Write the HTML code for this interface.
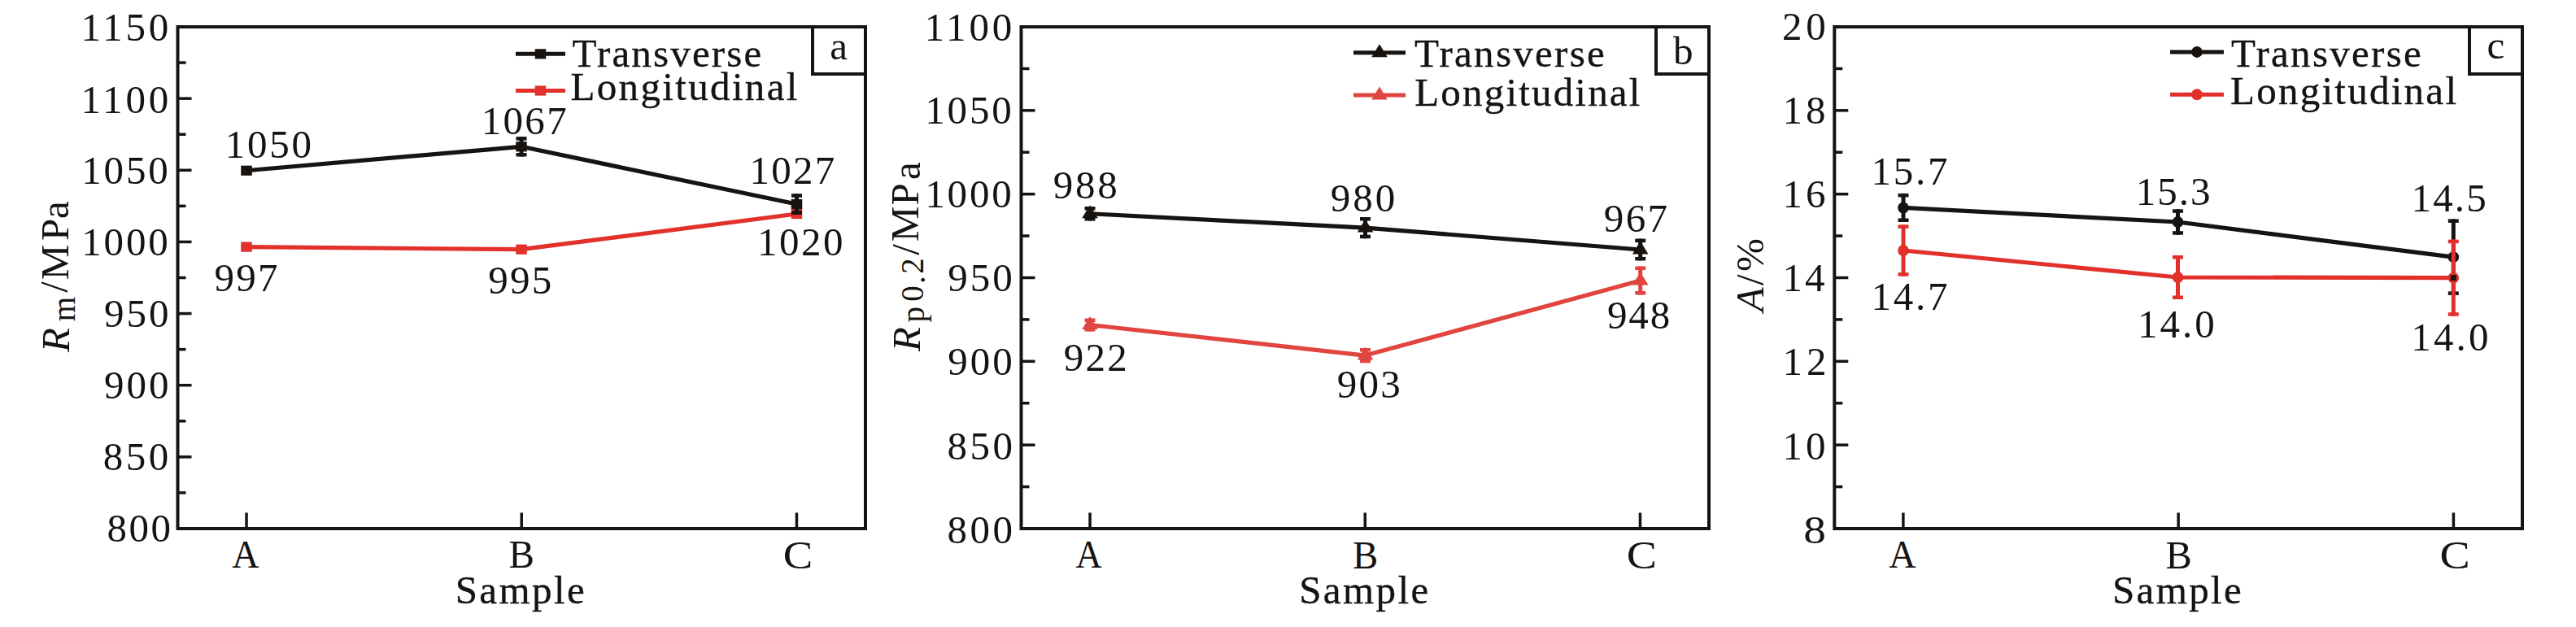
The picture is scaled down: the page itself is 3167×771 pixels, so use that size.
<!DOCTYPE html>
<html><head><meta charset="utf-8">
<style>
html,body{margin:0;padding:0;background:#fff;width:3167px;height:771px;overflow:hidden}
svg{display:block}
.t{font-family:"Liberation Serif", serif;font-size:49px;fill:#171311;stroke:#171311;stroke-width:0px}
#t_a_Transverse,#t_b_Transverse,#t_c_Transverse,#t_a_Longitudinal,#t_b_Longitudinal,#t_c_Longitudinal,#t_a_Sample,#t_b_Sample,#t_c_Sample{stroke-width:0.35px}
</style></head><body>
<svg width="3167" height="771" viewBox="0 0 3167 771">
<rect width="3167" height="771" fill="#fff"/>
<rect x="218.5" y="33" width="845.5" height="617" fill="none" stroke="#171311" stroke-width="4"/>
<line x1="218.5" y1="605.93" x2="228.5" y2="605.93" stroke="#171311" stroke-width="3.5"/>
<text id="t_a_y800" class="t" text-anchor="middle" transform="translate(172.00,665.95) scale(1.0000,1)" letter-spacing="2.5">800</text>
<line x1="218.5" y1="561.86" x2="235.5" y2="561.86" stroke="#171311" stroke-width="3.5"/>
<line x1="218.5" y1="517.79" x2="228.5" y2="517.79" stroke="#171311" stroke-width="3.5"/>
<text id="t_a_y850" class="t" text-anchor="middle" transform="translate(168.70,578.46) scale(1.0000,1)" letter-spacing="3.4">850</text>
<line x1="218.5" y1="473.71" x2="235.5" y2="473.71" stroke="#171311" stroke-width="3.5"/>
<line x1="218.5" y1="429.64" x2="228.5" y2="429.64" stroke="#171311" stroke-width="3.5"/>
<text id="t_a_y900" class="t" text-anchor="middle" transform="translate(169.20,490.31) scale(1.0000,1)" letter-spacing="2.9">900</text>
<line x1="218.5" y1="385.57" x2="235.5" y2="385.57" stroke="#171311" stroke-width="3.5"/>
<line x1="218.5" y1="341.50" x2="228.5" y2="341.50" stroke="#171311" stroke-width="3.5"/>
<text id="t_a_y950" class="t" text-anchor="middle" transform="translate(169.20,402.17) scale(1.0000,1)" letter-spacing="2.9">950</text>
<line x1="218.5" y1="297.43" x2="235.5" y2="297.43" stroke="#171311" stroke-width="3.5"/>
<line x1="218.5" y1="253.36" x2="228.5" y2="253.36" stroke="#171311" stroke-width="3.5"/>
<text id="t_a_y1000" class="t" text-anchor="middle" transform="translate(154.90,314.03) scale(1.0000,1)" letter-spacing="2.867">1000</text>
<line x1="218.5" y1="209.29" x2="235.5" y2="209.29" stroke="#171311" stroke-width="3.5"/>
<line x1="218.5" y1="165.21" x2="228.5" y2="165.21" stroke="#171311" stroke-width="3.5"/>
<text id="t_a_y1050" class="t" text-anchor="middle" transform="translate(154.90,225.89) scale(1.0000,1)" letter-spacing="2.867">1050</text>
<line x1="218.5" y1="121.14" x2="235.5" y2="121.14" stroke="#171311" stroke-width="3.5"/>
<line x1="218.5" y1="77.07" x2="228.5" y2="77.07" stroke="#171311" stroke-width="3.5"/>
<text id="t_a_y1100" class="t" text-anchor="middle" transform="translate(155.40,138.74) scale(1.0000,1)" letter-spacing="3.868">1100</text>
<text id="t_a_y1150" class="t" text-anchor="middle" transform="translate(155.40,50.10) scale(1.0000,1)" letter-spacing="3.868">1150</text>
<line x1="303.05" y1="630.5" x2="303.05" y2="650" stroke="#171311" stroke-width="3.5"/>
<text id="t_a_A" class="t" text-anchor="middle" transform="translate(302.00,698.00) scale(0.9412,1)">A</text>
<line x1="641.25" y1="630.5" x2="641.25" y2="650" stroke="#171311" stroke-width="3.5"/>
<text id="t_a_B" class="t" text-anchor="middle" transform="translate(641.20,697.90) scale(0.9614,1)">B</text>
<line x1="979.45" y1="630.5" x2="979.45" y2="650" stroke="#171311" stroke-width="3.5"/>
<text id="t_a_C" class="t" text-anchor="middle" transform="translate(980.90,699.00) scale(1.1179,1)">C</text>
<text id="t_a_Sample" class="t" text-anchor="middle" transform="translate(640.35,741.90) scale(1.0000,1)" letter-spacing="2.4">Sample</text>
<rect x="999" y="33" width="65" height="58" fill="none" stroke="#171311" stroke-width="4"/>
<text id="t_box_a" class="t" text-anchor="middle" transform="translate(1031.40,72.70) scale(1.0000,1)" letter-spacing="0.375">a</text>
<rect x="1255.5" y="33" width="845.5" height="617" fill="none" stroke="#171311" stroke-width="4"/>
<line x1="1255.5" y1="598.58" x2="1265.5" y2="598.58" stroke="#171311" stroke-width="3.5"/>
<text id="t_b_y800" class="t" text-anchor="middle" transform="translate(1206.50,667.60) scale(1.0000,1)" letter-spacing="3.5">800</text>
<line x1="1255.5" y1="547.17" x2="1272.5" y2="547.17" stroke="#171311" stroke-width="3.5"/>
<line x1="1255.5" y1="495.75" x2="1265.5" y2="495.75" stroke="#171311" stroke-width="3.5"/>
<text id="t_b_y850" class="t" text-anchor="middle" transform="translate(1206.50,564.77) scale(1.0000,1)" letter-spacing="3.5">850</text>
<line x1="1255.5" y1="444.33" x2="1272.5" y2="444.33" stroke="#171311" stroke-width="3.5"/>
<line x1="1255.5" y1="392.92" x2="1265.5" y2="392.92" stroke="#171311" stroke-width="3.5"/>
<text id="t_b_y900" class="t" text-anchor="middle" transform="translate(1206.50,460.93) scale(1.0000,1)" letter-spacing="3.0">900</text>
<line x1="1255.5" y1="341.50" x2="1272.5" y2="341.50" stroke="#171311" stroke-width="3.5"/>
<line x1="1255.5" y1="290.08" x2="1265.5" y2="290.08" stroke="#171311" stroke-width="3.5"/>
<text id="t_b_y950" class="t" text-anchor="middle" transform="translate(1206.50,358.10) scale(1.0000,1)" letter-spacing="3.0">950</text>
<line x1="1255.5" y1="238.67" x2="1272.5" y2="238.67" stroke="#171311" stroke-width="3.5"/>
<line x1="1255.5" y1="187.25" x2="1265.5" y2="187.25" stroke="#171311" stroke-width="3.5"/>
<text id="t_b_y1000" class="t" text-anchor="middle" transform="translate(1191.90,255.27) scale(1.0000,1)" letter-spacing="2.867">1000</text>
<line x1="1255.5" y1="135.83" x2="1272.5" y2="135.83" stroke="#171311" stroke-width="3.5"/>
<line x1="1255.5" y1="84.42" x2="1265.5" y2="84.42" stroke="#171311" stroke-width="3.5"/>
<text id="t_b_y1050" class="t" text-anchor="middle" transform="translate(1191.90,152.43) scale(1.0000,1)" letter-spacing="2.867">1050</text>
<text id="t_b_y1100" class="t" text-anchor="middle" transform="translate(1192.40,50.10) scale(1.0000,1)" letter-spacing="3.868">1100</text>
<line x1="1340.05" y1="630.5" x2="1340.05" y2="650" stroke="#171311" stroke-width="3.5"/>
<text id="t_b_A" class="t" text-anchor="middle" transform="translate(1338.55,698.00) scale(0.9127,1)">A</text>
<line x1="1678.25" y1="630.5" x2="1678.25" y2="650" stroke="#171311" stroke-width="3.5"/>
<text id="t_b_B" class="t" text-anchor="middle" transform="translate(1678.65,698.90) scale(0.9548,1)">B</text>
<line x1="2016.45" y1="630.5" x2="2016.45" y2="650" stroke="#171311" stroke-width="3.5"/>
<text id="t_b_C" class="t" text-anchor="middle" transform="translate(2018.25,699.10) scale(1.1386,1)">C</text>
<text id="t_b_Sample" class="t" text-anchor="middle" transform="translate(1677.90,741.90) scale(1.0000,1)" letter-spacing="2.4">Sample</text>
<rect x="2036" y="33" width="65" height="58" fill="none" stroke="#171311" stroke-width="4"/>
<text id="t_box_b" class="t" text-anchor="middle" transform="translate(2069.00,78.95) scale(1.0000,1)" letter-spacing="-0.25">b</text>
<rect x="2255.3" y="33" width="845.6999999999998" height="617" fill="none" stroke="#171311" stroke-width="4"/>
<line x1="2255.3" y1="598.58" x2="2265.3" y2="598.58" stroke="#171311" stroke-width="3.5"/>
<text id="t_c_y8" class="t" text-anchor="middle" transform="translate(2231.10,667.60) scale(1.1269,1)">8</text>
<line x1="2255.3" y1="547.17" x2="2272.3" y2="547.17" stroke="#171311" stroke-width="3.5"/>
<line x1="2255.3" y1="495.75" x2="2265.3" y2="495.75" stroke="#171311" stroke-width="3.5"/>
<text id="t_c_y10" class="t" text-anchor="middle" transform="translate(2220.00,564.77) scale(1.0000,1)" letter-spacing="4.0">10</text>
<line x1="2255.3" y1="444.33" x2="2272.3" y2="444.33" stroke="#171311" stroke-width="3.5"/>
<line x1="2255.3" y1="392.92" x2="2265.3" y2="392.92" stroke="#171311" stroke-width="3.5"/>
<text id="t_c_y12" class="t" text-anchor="middle" transform="translate(2221.00,460.93) scale(1.0000,1)" letter-spacing="5.0">12</text>
<line x1="2255.3" y1="341.50" x2="2272.3" y2="341.50" stroke="#171311" stroke-width="3.5"/>
<line x1="2255.3" y1="290.08" x2="2265.3" y2="290.08" stroke="#171311" stroke-width="3.5"/>
<text id="t_c_y14" class="t" text-anchor="middle" transform="translate(2219.00,358.10) scale(1.0000,1)" letter-spacing="3.0">14</text>
<line x1="2255.3" y1="238.67" x2="2272.3" y2="238.67" stroke="#171311" stroke-width="3.5"/>
<line x1="2255.3" y1="187.25" x2="2265.3" y2="187.25" stroke="#171311" stroke-width="3.5"/>
<text id="t_c_y16" class="t" text-anchor="middle" transform="translate(2220.00,255.27) scale(1.0000,1)" letter-spacing="4.0">16</text>
<line x1="2255.3" y1="135.83" x2="2272.3" y2="135.83" stroke="#171311" stroke-width="3.5"/>
<line x1="2255.3" y1="84.42" x2="2265.3" y2="84.42" stroke="#171311" stroke-width="3.5"/>
<text id="t_c_y18" class="t" text-anchor="middle" transform="translate(2220.00,152.43) scale(1.0000,1)" letter-spacing="4.0">18</text>
<text id="t_c_y20" class="t" text-anchor="middle" transform="translate(2220.20,49.05) scale(1.0000,1)" letter-spacing="4.6">20</text>
<line x1="2339.87" y1="630.5" x2="2339.87" y2="650" stroke="#171311" stroke-width="3.5"/>
<text id="t_c_A" class="t" text-anchor="middle" transform="translate(2338.87,698.00) scale(0.9412,1)">A</text>
<line x1="2678.15" y1="630.5" x2="2678.15" y2="650" stroke="#171311" stroke-width="3.5"/>
<text id="t_c_B" class="t" text-anchor="middle" transform="translate(2678.55,698.90) scale(0.9889,1)">B</text>
<line x1="3016.43" y1="630.5" x2="3016.43" y2="650" stroke="#171311" stroke-width="3.5"/>
<text id="t_c_C" class="t" text-anchor="middle" transform="translate(3018.23,699.10) scale(1.1386,1)">C</text>
<text id="t_c_Sample" class="t" text-anchor="middle" transform="translate(2677.50,741.90) scale(1.0000,1)" letter-spacing="2.36">Sample</text>
<rect x="3036" y="33" width="65" height="58" fill="none" stroke="#171311" stroke-width="4"/>
<text id="t_box_c" class="t" text-anchor="middle" transform="translate(3068.70,72.45) scale(1.0000,1)" letter-spacing="0.5">c</text>
<polyline points="303.00,303.60 641.00,306.70 979.50,263.00" fill="none" stroke="#e2302b" stroke-width="5.2" stroke-linejoin="round"/>
<rect x="296.25" y="297.50" width="13.5" height="12.2" fill="#e2302b"/>
<rect x="634.25" y="300.60" width="13.5" height="12.2" fill="#e2302b"/>
<rect x="972.75" y="256.90" width="13.5" height="12.2" fill="#e2302b"/>
<polyline points="303.00,209.75 641.00,180.30 979.50,251.00" fill="none" stroke="#171311" stroke-width="5.2" stroke-linejoin="round"/>
<rect x="296.25" y="203.65" width="13.5" height="12.2" fill="#171311"/>
<line x1="641.00" y1="168.10" x2="641.00" y2="192.50" stroke="#171311" stroke-width="5"/><rect x="634.50" y="168.10" width="13" height="4.5" fill="#171311"/><rect x="634.50" y="188.00" width="13" height="4.5" fill="#171311"/>
<rect x="634.25" y="174.20" width="13.5" height="12.2" fill="#171311"/>
<line x1="979.50" y1="238.25" x2="979.50" y2="263.75" stroke="#171311" stroke-width="5"/><rect x="973.00" y="238.25" width="13" height="4.5" fill="#171311"/><rect x="973.00" y="259.25" width="13" height="4.5" fill="#171311"/>
<rect x="972.75" y="244.90" width="13.5" height="12.2" fill="#171311"/>
<polyline points="1340.00,399.50 1678.50,437.10 2016.70,345.00" fill="none" stroke="#e04540" stroke-width="5.2" stroke-linejoin="round"/>
<line x1="1340.00" y1="391.50" x2="1340.00" y2="407.50" stroke="#e04540" stroke-width="5"/><rect x="1333.50" y="391.50" width="13" height="4.5" fill="#e04540"/><rect x="1333.50" y="403.00" width="13" height="4.5" fill="#e04540"/>
<polygon points="1340.00,389.00 1349.80,405.00 1330.20,405.00" fill="#e04540"/>
<line x1="1678.50" y1="428.00" x2="1678.50" y2="446.20" stroke="#e04540" stroke-width="5"/><rect x="1672.00" y="428.00" width="13" height="4.5" fill="#e04540"/><rect x="1672.00" y="441.70" width="13" height="4.5" fill="#e04540"/>
<polygon points="1678.50,426.60 1688.30,442.60 1668.70,442.60" fill="#e04540"/>
<line x1="2016.70" y1="327.50" x2="2016.70" y2="362.50" stroke="#e04540" stroke-width="5"/><rect x="2010.20" y="327.50" width="13" height="4.5" fill="#e04540"/><rect x="2010.20" y="358.00" width="13" height="4.5" fill="#e04540"/>
<polygon points="2016.70,334.50 2026.50,350.50 2006.90,350.50" fill="#e04540"/>
<polyline points="1340.00,262.75 1678.50,280.10 2016.70,307.00" fill="none" stroke="#171311" stroke-width="5.2" stroke-linejoin="round"/>
<line x1="1340.00" y1="254.00" x2="1340.00" y2="271.50" stroke="#171311" stroke-width="5"/><rect x="1333.50" y="254.00" width="13" height="4.5" fill="#171311"/><rect x="1333.50" y="267.00" width="13" height="4.5" fill="#171311"/>
<polygon points="1340.00,252.25 1349.80,268.25 1330.20,268.25" fill="#171311"/>
<line x1="1678.50" y1="267.00" x2="1678.50" y2="293.20" stroke="#171311" stroke-width="5"/><rect x="1672.00" y="267.00" width="13" height="4.5" fill="#171311"/><rect x="1672.00" y="288.70" width="13" height="4.5" fill="#171311"/>
<polygon points="1678.50,269.60 1688.30,285.60 1668.70,285.60" fill="#171311"/>
<line x1="2016.70" y1="293.60" x2="2016.70" y2="320.40" stroke="#171311" stroke-width="5"/><rect x="2010.20" y="293.60" width="13" height="4.5" fill="#171311"/><rect x="2010.20" y="315.90" width="13" height="4.5" fill="#171311"/>
<polygon points="2016.70,296.50 2026.50,312.50 2006.90,312.50" fill="#171311"/>
<polyline points="2340.00,255.45 2677.50,273.00 3016.30,316.15" fill="none" stroke="#171311" stroke-width="5.2" stroke-linejoin="round"/>
<line x1="2340.00" y1="237.90" x2="2340.00" y2="273.00" stroke="#171311" stroke-width="5"/><rect x="2333.50" y="237.90" width="13" height="4.5" fill="#171311"/><rect x="2333.50" y="268.50" width="13" height="4.5" fill="#171311"/>
<ellipse cx="2340.00" cy="255.45" rx="6.8" ry="7" fill="#171311"/>
<line x1="2677.50" y1="257.30" x2="2677.50" y2="288.70" stroke="#171311" stroke-width="5"/><rect x="2671.00" y="257.30" width="13" height="4.5" fill="#171311"/><rect x="2671.00" y="284.20" width="13" height="4.5" fill="#171311"/>
<ellipse cx="2677.50" cy="273.00" rx="6.8" ry="7" fill="#171311"/>
<line x1="3016.30" y1="269.40" x2="3016.30" y2="362.90" stroke="#171311" stroke-width="5"/><rect x="3009.80" y="269.40" width="13" height="4.5" fill="#171311"/><rect x="3009.80" y="358.40" width="13" height="4.5" fill="#171311"/>
<ellipse cx="3016.30" cy="316.15" rx="6.8" ry="7" fill="#171311"/>
<polyline points="2340.00,308.00 2677.50,341.00 3016.30,341.65" fill="none" stroke="#e2302b" stroke-width="5.2" stroke-linejoin="round"/>
<line x1="2340.00" y1="276.40" x2="2340.00" y2="339.60" stroke="#e2302b" stroke-width="5"/><rect x="2333.50" y="276.40" width="13" height="4.5" fill="#e2302b"/><rect x="2333.50" y="335.10" width="13" height="4.5" fill="#e2302b"/>
<ellipse cx="2340.00" cy="308.00" rx="6.8" ry="7" fill="#e2302b"/>
<line x1="2677.50" y1="314.00" x2="2677.50" y2="368.00" stroke="#e2302b" stroke-width="5"/><rect x="2671.00" y="314.00" width="13" height="4.5" fill="#e2302b"/><rect x="2671.00" y="363.50" width="13" height="4.5" fill="#e2302b"/>
<ellipse cx="2677.50" cy="341.00" rx="6.8" ry="7" fill="#e2302b"/>
<line x1="3016.30" y1="294.65" x2="3016.30" y2="388.65" stroke="#e2302b" stroke-width="5"/><rect x="3009.80" y="294.65" width="13" height="4.5" fill="#e2302b"/><rect x="3009.80" y="384.15" width="13" height="4.5" fill="#e2302b"/>
<ellipse cx="3016.30" cy="341.65" rx="6.8" ry="7" fill="#e2302b"/>
<rect x="3012.80" y="338.15" width="7" height="7" fill="#171311"/>
<text id="t_1050" class="t" text-anchor="middle" transform="translate(331.30,194.20) scale(1.0000,1)" letter-spacing="2.732">1050</text>
<text id="t_1067" class="t" text-anchor="middle" transform="translate(645.30,165.40) scale(1.0000,1)" letter-spacing="2.333">1067</text>
<text id="t_1027" class="t" text-anchor="middle" transform="translate(975.00,225.90) scale(1.0000,1)" letter-spacing="2.268">1027</text>
<text id="t_1020" class="t" text-anchor="middle" transform="translate(985.05,313.90) scale(1.0000,1)" letter-spacing="2.468">1020</text>
<text id="t_997" class="t" text-anchor="middle" transform="translate(303.70,357.80) scale(1.0000,1)" letter-spacing="2.3">997</text>
<text id="t_995" class="t" text-anchor="middle" transform="translate(640.35,361.40) scale(1.0000,1)" letter-spacing="2.2">995</text>
<text id="t_988" class="t" text-anchor="middle" transform="translate(1335.70,244.00) scale(1.0000,1)" letter-spacing="2.8">988</text>
<text id="t_980" class="t" text-anchor="middle" transform="translate(1677.10,260.20) scale(1.0000,1)" letter-spacing="3.0">980</text>
<text id="t_967" class="t" text-anchor="middle" transform="translate(2012.10,284.50) scale(1.0000,1)" letter-spacing="2.4">967</text>
<text id="t_948" class="t" text-anchor="middle" transform="translate(2015.50,404.40) scale(1.0000,1)" letter-spacing="1.9">948</text>
<text id="t_922" class="t" text-anchor="middle" transform="translate(1347.85,455.80) scale(1.0000,1)" letter-spacing="2.2">922</text>
<text id="t_903" class="t" text-anchor="middle" transform="translate(1683.90,489.40) scale(1.0000,1)" letter-spacing="2.3">903</text>
<text id="t_15.7" class="t" text-anchor="middle" transform="translate(2348.85,226.50) scale(1.0000,1)" letter-spacing="2.735">15.7</text>
<text id="t_14.7" class="t" text-anchor="middle" transform="translate(2348.85,381.00) scale(1.0000,1)" letter-spacing="2.735">14.7</text>
<text id="t_15.3" class="t" text-anchor="middle" transform="translate(2672.65,251.60) scale(1.0000,1)" letter-spacing="2.069">15.3</text>
<text id="t_14.5" class="t" text-anchor="middle" transform="translate(3011.70,260.00) scale(1.0000,1)" letter-spacing="2.132">14.5</text>
<text id="t_14.0B" class="t" text-anchor="middle" transform="translate(2676.75,415.40) scale(1.0000,1)" letter-spacing="3.0">14.0</text>
<text id="t_14.0C" class="t" text-anchor="middle" transform="translate(3013.45,430.80) scale(1.0000,1)" letter-spacing="3.134">14.0</text>
<line x1="634" y1="66.3" x2="695" y2="66.3" stroke="#171311" stroke-width="5"/>
<rect x="657.75" y="60.20" width="13.5" height="12.2" fill="#171311"/>
<line x1="634" y1="111.5" x2="695" y2="111.5" stroke="#e2302b" stroke-width="5"/>
<rect x="657.75" y="105.40" width="13.5" height="12.2" fill="#e2302b"/>
<line x1="1664" y1="64.7" x2="1728" y2="64.7" stroke="#171311" stroke-width="5"/>
<polygon points="1696.00,54.20 1705.80,70.20 1686.20,70.20" fill="#171311"/>
<line x1="1664" y1="117" x2="1728" y2="117" stroke="#e04540" stroke-width="5"/>
<polygon points="1696.00,106.50 1705.80,122.50 1686.20,122.50" fill="#e04540"/>
<line x1="2668" y1="63.9" x2="2734" y2="63.9" stroke="#171311" stroke-width="5"/>
<ellipse cx="2701.00" cy="63.90" rx="6.8" ry="7" fill="#171311"/>
<line x1="2668" y1="116.2" x2="2734" y2="116.2" stroke="#e2302b" stroke-width="5"/>
<ellipse cx="2701.00" cy="116.20" rx="6.8" ry="7" fill="#e2302b"/>
<text id="t_a_Transverse" class="t" text-anchor="middle" transform="translate(821.00,81.80) scale(1.0000,1)" letter-spacing="2.172">Transverse</text>
<text id="t_a_Longitudinal" class="t" text-anchor="middle" transform="translate(842.10,123.20) scale(1.0000,1)" letter-spacing="2.356">Longitudinal</text>
<text id="t_b_Transverse" class="t" text-anchor="middle" transform="translate(1857.00,81.80) scale(1.0000,1)" letter-spacing="2.283">Transverse</text>
<text id="t_b_Longitudinal" class="t" text-anchor="middle" transform="translate(1878.90,129.60) scale(1.0000,1)" letter-spacing="2.182">Longitudinal</text>
<text id="t_c_Transverse" class="t" text-anchor="middle" transform="translate(2861.00,81.80) scale(1.0000,1)" letter-spacing="2.283">Transverse</text>
<text id="t_c_Longitudinal" class="t" text-anchor="middle" transform="translate(2882.10,128.20) scale(1.0000,1)" letter-spacing="2.265">Longitudinal</text>
<text id="t_ra_R" class="t" style="font-size:49px" font-style="italic" text-anchor="middle" transform="translate(84.50,418.05) rotate(-90)">R</text>
<text id="t_ra_m" class="t" style="font-size:39px" text-anchor="middle" transform="translate(92.00,380.10) rotate(-90)">m</text>
<text id="t_ra_sl" class="t" style="font-size:49px" text-anchor="middle" transform="translate(82.90,353.00) rotate(-90)">/</text>
<text id="t_ra_M" class="t" style="font-size:49px" text-anchor="middle" transform="translate(83.50,322.50) rotate(-90)">M</text>
<text id="t_ra_P" class="t" style="font-size:49px" text-anchor="middle" transform="translate(83.50,282.35) rotate(-90)">P</text>
<text id="t_ra_a" class="t" style="font-size:49px" text-anchor="middle" transform="translate(83.70,258.15) rotate(-90)">a</text>
<text id="t_rb_R" class="t" style="font-size:49px" font-style="italic" text-anchor="middle" transform="translate(1130.90,416.95) rotate(-90)">R</text>
<text id="t_rb_p" class="t" style="font-size:39px" text-anchor="middle" transform="translate(1136.00,386.75) rotate(-90)">p</text>
<text id="t_rb_0" class="t" style="font-size:39px" text-anchor="middle" transform="translate(1135.20,361.10) rotate(-90)">0</text>
<text id="t_rb_dot" class="t" style="font-size:39px" text-anchor="middle" transform="translate(1136.75,344.10) rotate(-90)">.</text>
<text id="t_rb_2" class="t" style="font-size:39px" text-anchor="middle" transform="translate(1135.20,327.10) rotate(-90)">2</text>
<text id="t_rb_sl" class="t" style="font-size:49px" text-anchor="middle" transform="translate(1129.80,307.00) rotate(-90)">/</text>
<text id="t_rb_M" class="t" style="font-size:49px" text-anchor="middle" transform="translate(1129.00,275.50) rotate(-90)">M</text>
<text id="t_rb_P" class="t" style="font-size:49px" text-anchor="middle" transform="translate(1129.00,238.75) rotate(-90)">P</text>
<text id="t_rb_a" class="t" style="font-size:49px" text-anchor="middle" transform="translate(1131.00,210.00) rotate(-90)">a</text>
<text id="t_rc_A" class="t" style="font-size:49px" font-style="italic" text-anchor="middle" transform="translate(2167.60,368.20) rotate(-90)">A</text>
<text id="t_rc_sl" class="t" style="font-size:49px" text-anchor="middle" transform="translate(2167.60,344.10) rotate(-90)">/</text>
<text id="t_rc_pc" class="t" style="font-size:49px" text-anchor="middle" transform="translate(2167.60,313.65) rotate(-90)">%</text>
</svg>
</body></html>
